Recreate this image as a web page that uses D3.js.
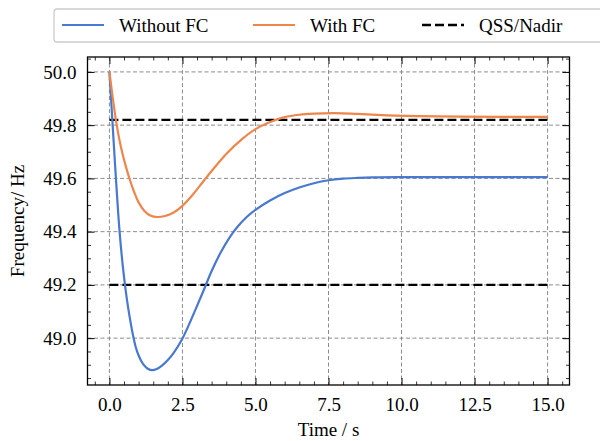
<!DOCTYPE html>
<html>
<head>
<meta charset="utf-8">
<script src="https://cdn.jsdelivr.net/npm/d3@7"></script>
<style>
  body { margin: 0; background: #fff; }
  svg { display: block; font-family: "Liberation Serif", "Times New Roman", serif; }
</style>
</head>
<body>
<script>
var timeNoFC = [0, 0.1, 0.2, 0.3, 0.4, 0.5, 0.6, 0.7, 0.8, 0.9, 1.0, 1.15, 1.3, 1.45, 1.6, 1.8, 2.0, 2.2, 2.46, 2.7, 2.95, 3.22, 3.5, 3.8, 4.1, 4.4, 4.7, 5.0, 5.5, 6.0, 6.5, 7.0, 7.5, 8.0, 8.5, 9.0, 10, 12.5, 15];
var freqNoFC = [50.0, 49.82, 49.64, 49.47, 49.335, 49.23, 49.145, 49.075, 49.015, 48.967, 48.935, 48.903, 48.886, 48.88, 48.883, 48.897, 48.918, 48.945, 48.99, 49.045, 49.108, 49.178, 49.252, 49.32, 49.376, 49.42, 49.455, 49.482, 49.517, 49.545, 49.566, 49.582, 49.593, 49.599, 49.602, 49.604, 49.605, 49.605, 49.605];

var timeFC = [0, 0.1, 0.25, 0.4, 0.55, 0.7, 0.85, 1.0, 1.2, 1.4, 1.64, 1.9, 2.2, 2.5, 2.8, 3.1, 3.5, 4.0, 4.5, 5.0, 5.5, 6.0, 6.5, 7.0, 7.7, 8.5, 9.5, 10.5, 12, 15];
var freqFC = [50.0, 49.915, 49.8, 49.715, 49.65, 49.595, 49.548, 49.51, 49.478, 49.461, 49.455, 49.459, 49.472, 49.497, 49.532, 49.573, 49.628, 49.692, 49.744, 49.785, 49.812, 49.83, 49.839, 49.843, 49.845, 49.842, 49.837, 49.834, 49.832, 49.831];

var qssLevels = [49.82, 49.2];
var qssSpan = [0, 15];

var xTicks = [0, 2.5, 5, 7.5, 10, 12.5, 15];
var yTicks = [49.0, 49.2, 49.4, 49.6, 49.8, 50.0];

var legendNames = ["Without FC", "With FC", "QSS/Nadir"];
var colors = ["#4878d0", "#ee854a", "#000000"];

var width = 600, height = 441;
var pLeft = 87.5, pRight = 569.5, pTop = 57, pBottom = 385;

var svg = d3.select("body").append("svg")
  .attr("width", width)
  .attr("height", height);

var x = d3.scaleLinear().domain([-0.75, 15.75]).range([pLeft, pRight]);
var y = d3.scaleLinear().domain([48.824, 50.056]).range([pBottom, pTop]);

// grid
svg.append("g").selectAll("line")
  .data(xTicks).enter().append("line")
  .attr("x1", function(d) { return x(d); })
  .attr("x2", function(d) { return x(d); })
  .attr("y1", pTop).attr("y2", pBottom)
  .style("stroke", "#8c8c8c").style("stroke-width", 1)
  .style("stroke-dasharray", "4,2.5");
svg.append("g").selectAll("line")
  .data(yTicks).enter().append("line")
  .attr("y1", function(d) { return y(d); })
  .attr("y2", function(d) { return y(d); })
  .attr("x1", pLeft).attr("x2", pRight)
  .style("stroke", "#8c8c8c").style("stroke-width", 1)
  .style("stroke-dasharray", "4,2.5");

// qss lines
svg.append("g").selectAll("line")
  .data(qssLevels).enter().append("line")
  .attr("x1", x(qssSpan[0])).attr("x2", x(qssSpan[1]))
  .attr("y1", function(d) { return y(d); })
  .attr("y2", function(d) { return y(d); })
  .style("stroke", "#000").style("stroke-width", 2.3)
  .style("stroke-dasharray", "9,4");

var line = d3.line()
  .x(function(d) { return x(d[0]); })
  .y(function(d) { return y(d[1]); })
  .curve(d3.curveCatmullRom.alpha(0.5));

var series = [d3.zip(timeNoFC, freqNoFC), d3.zip(timeFC, freqFC)];
svg.append("g").selectAll("path")
  .data(series).enter().append("path")
  .attr("d", line)
  .style("fill", "none")
  .style("stroke", function(d, i) { return colors[i]; })
  .style("stroke-width", 2.2);

// axes, ticks inward on all four sides
function addAxis(axis, tx, ty, minor) {
  var g = svg.append("g").attr("transform", "translate(" + tx + "," + ty + ")").call(axis);
  g.attr("font-family", null).attr("font-size", null);
  g.select(".domain").remove();
  g.selectAll("line").style("stroke", "#000").style("stroke-width", minor ? 0.8 : 1);
  return g;
}
var xMinor = d3.range(0, 31).map(function(i) { return i * 0.5; })
  .filter(function(d) { return xTicks.indexOf(d) < 0; });
xMinor.unshift(-0.5);
xMinor.push(15.5);
var yMinor = d3.range(0, 25).map(function(i) { return +(48.85 + i * 0.05).toFixed(2); })
  .filter(function(d) { return yTicks.indexOf(d) < 0 && d < 50.056; });

var gx = addAxis(d3.axisBottom(x).tickValues(xTicks).tickSizeInner(-7).tickSizeOuter(0).tickPadding(13).tickFormat(d3.format(".1f")), 0, pBottom);
addAxis(d3.axisBottom(x).tickValues(xMinor).tickSize(-3.5).tickFormat(""), 0, pBottom, true);
addAxis(d3.axisTop(x).tickValues(xTicks).tickSize(-7).tickFormat(""), 0, pTop);
addAxis(d3.axisTop(x).tickValues(xMinor).tickSize(-3.5).tickFormat(""), 0, pTop, true);

var gy = addAxis(d3.axisLeft(y).tickValues(yTicks).tickSizeInner(-7).tickSizeOuter(0).tickPadding(11).tickFormat(d3.format(".1f")), pLeft, 0);
addAxis(d3.axisLeft(y).tickValues(yMinor).tickSize(-3.5).tickFormat(""), pLeft, 0, true);
addAxis(d3.axisRight(y).tickValues(yTicks).tickSize(-7).tickFormat(""), pRight, 0);
addAxis(d3.axisRight(y).tickValues(yMinor).tickSize(-3.5).tickFormat(""), pRight, 0, true);

gx.selectAll("text").style("font-size", "19px").style("fill", "#000");
gy.selectAll("text").style("font-size", "19px").style("fill", "#000");

svg.append("rect")
  .attr("x", pLeft).attr("y", pTop)
  .attr("width", pRight - pLeft).attr("height", pBottom - pTop)
  .style("fill", "none").style("stroke", "#000").style("stroke-width", 1.3);

// axis titles
svg.append("text")
  .attr("x", (pLeft + pRight) / 2).attr("y", 436)
  .attr("text-anchor", "middle")
  .style("font-size", "19px")
  .text("Time / s");
svg.append("text")
  .attr("transform", "translate(24," + ((pTop + pBottom) / 2) + ") rotate(-90)")
  .attr("text-anchor", "middle")
  .style("font-size", "19px")
  .text("Frequency/ Hz");

// legend
svg.append("rect")
  .attr("x", 54).attr("y", 9)
  .attr("width", 560).attr("height", 33)
  .attr("rx", 3)
  .style("fill", "#fff").style("stroke", "#cccccc").style("stroke-width", 1.3);

var legendX = [62, 253, 422];
var leg = svg.append("g").selectAll("g")
  .data(legendNames).enter().append("g")
  .attr("transform", function(d, i) { return "translate(" + legendX[i] + ",25)"; });
leg.append("line")
  .attr("x1", 0).attr("x2", 42)
  .style("stroke", function(d, i) { return colors[i]; })
  .style("stroke-width", function(d, i) { return i == 2 ? 2.3 : 2.2; })
  .style("stroke-dasharray", function(d, i) { return i == 2 ? "9,4" : null; });
leg.append("text")
  .attr("x", 57).attr("y", 6.5)
  .style("font-size", "19px")
  .text(function(d) { return d; });
</script>
</body>
</html>
